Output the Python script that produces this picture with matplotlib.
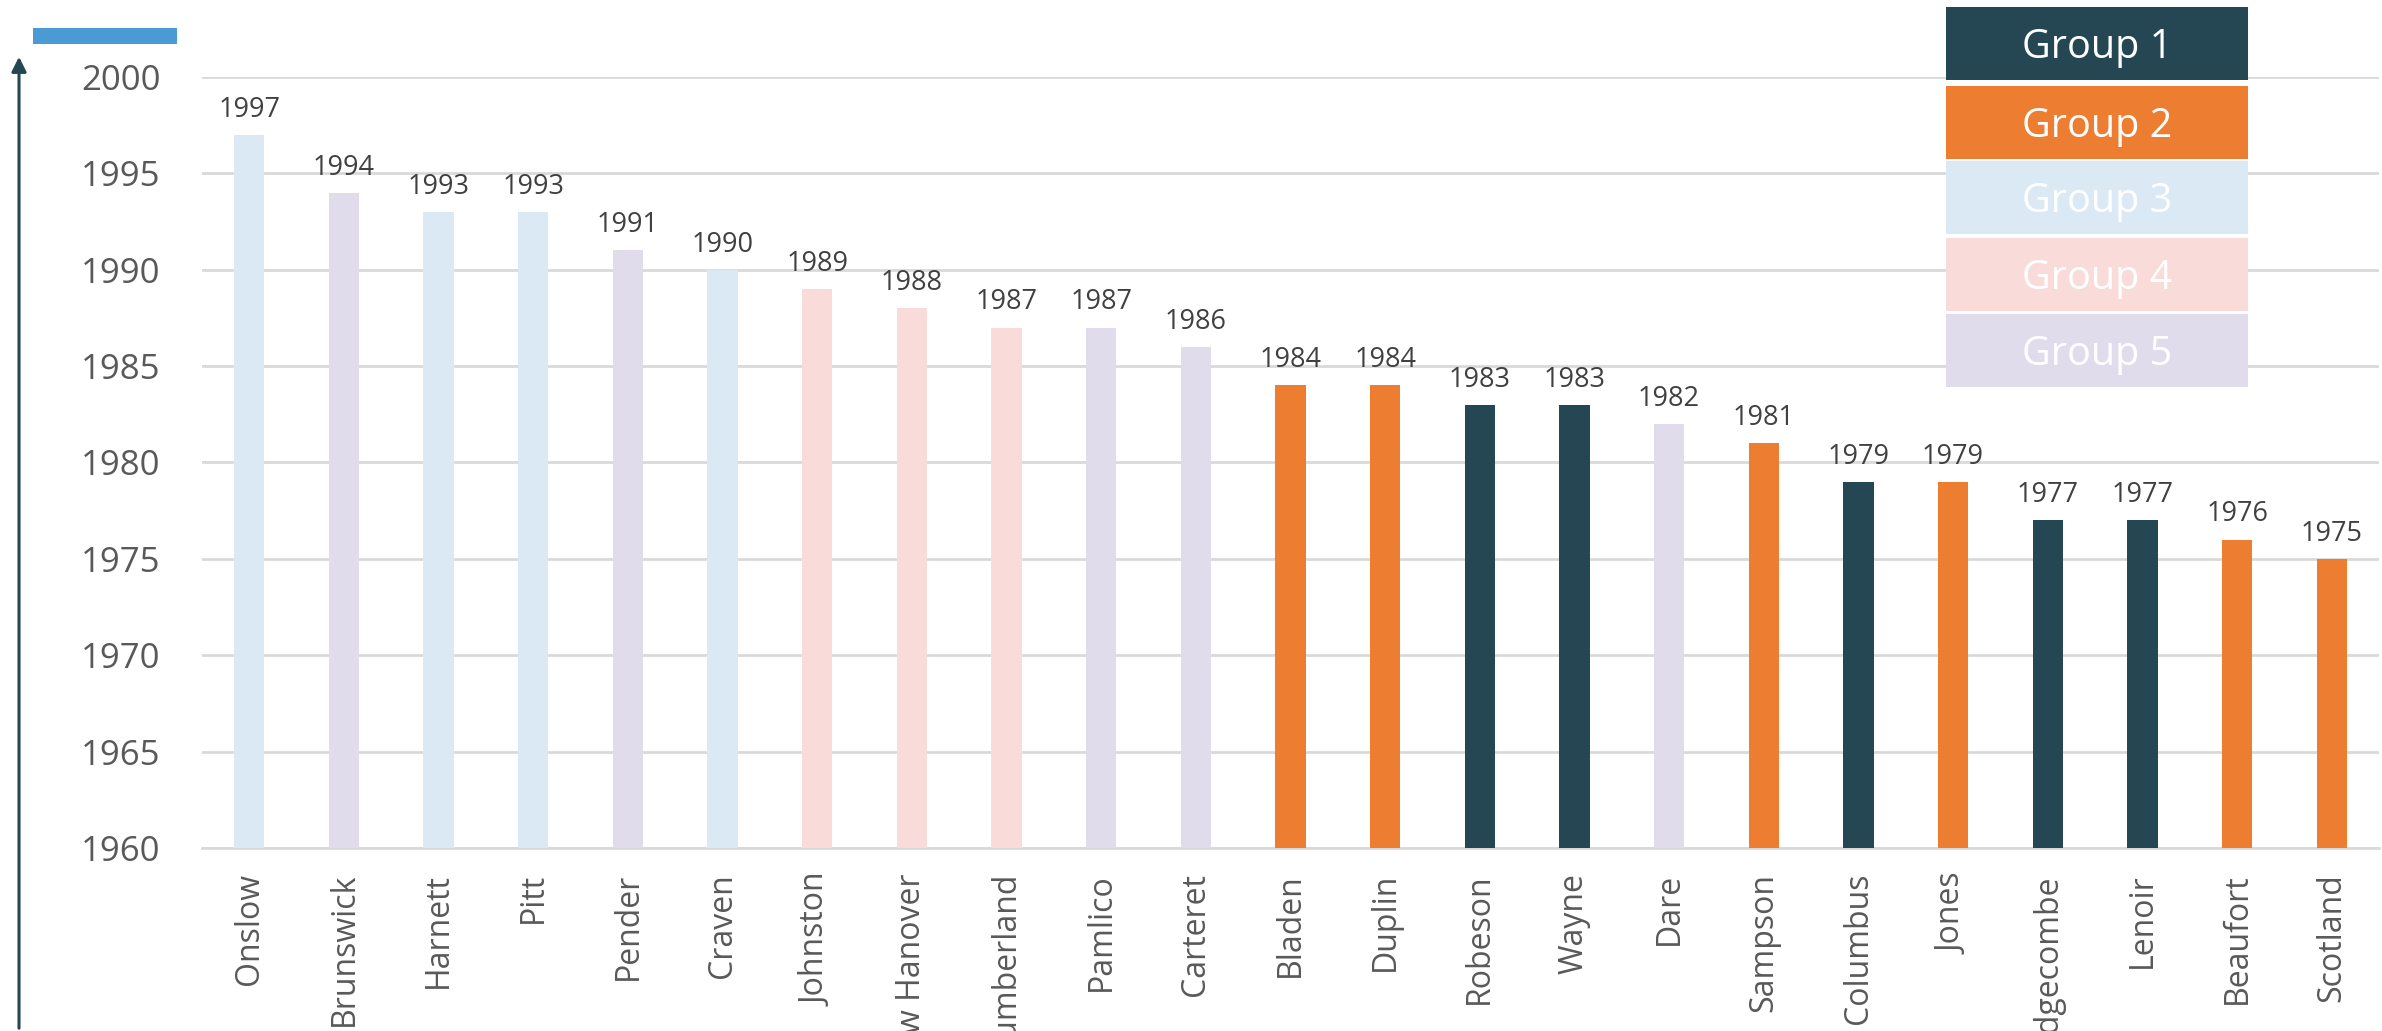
import matplotlib
matplotlib.use("Agg")
import matplotlib.pyplot as plt
from matplotlib.patches import Rectangle, FancyArrowPatch

counties = ["Onslow", "Brunswick", "Harnett", "Pitt", "Pender", "Craven", "Johnston",
            "New Hanover", "Cumberland", "Pamlico", "Carteret", "Bladen", "Duplin",
            "Robeson", "Wayne", "Dare", "Sampson", "Columbus", "Jones", "Edgecombe",
            "Lenoir", "Beaufort", "Scotland"]
years = [1997, 1994, 1993, 1993, 1991, 1990, 1989, 1988, 1987, 1987, 1986, 1984, 1984,
         1983, 1983, 1982, 1981, 1979, 1979, 1977, 1977, 1976, 1975]
groups = [3, 5, 3, 3, 5, 3, 4, 4, 4, 5, 5, 2, 2, 1, 1, 5, 2, 1, 2, 1, 1, 2, 2]
group_names = ["Group 1", "Group 2", "Group 3", "Group 4", "Group 5"]
group_colors = ["#254653", "#ED7D31", "#DAE9F4", "#F9DCD9", "#E0DCEC"]
y_ticks = [1960, 1965, 1970, 1975, 1980, 1985, 1990, 1995, 2000]

W, H = 2382, 1031
fig = plt.figure(figsize=(W / 100, H / 100), dpi=100)
ax = fig.add_axes([202 / W, 1 - 848 / H, (2379 - 202) / W, (848 - 77) / H])

x = list(range(len(counties)))
bottom = y_ticks[0]
colors = [group_colors[g - 1] for g in groups]
bars = ax.bar(x, [y - bottom for y in years], bottom=bottom, width=0.32,
              color=colors, zorder=3)
for xi, yv in zip(x, years):
    ax.annotate(str(yv), (xi, yv), xytext=(0, 8), textcoords="offset points",
                ha="center", va="bottom", fontsize=19.5, color="#404040",
                family="Open Sans")

ax.set_xlim(-0.5, len(counties) - 0.5)
ax.set_ylim(y_ticks[0], y_ticks[-1])
ax.set_yticks(y_ticks)
ax.set_yticklabels([str(t) for t in y_ticks], fontsize=25, color="#595959",
                   family="Open Sans")
ax.set_xticks(x)
ax.set_xticklabels(counties, rotation=90, fontsize=23, color="#595959",
                   family="Open Sans", va="top", ha="center")
ax.tick_params(axis="y", length=0, pad=30)
ax.tick_params(axis="x", length=0, pad=18)
ax.grid(axis="y", color="#D9D9D9", linewidth=2, zorder=0)
for s in ["top", "right", "left"]:
    ax.spines[s].set_visible(False)
ax.spines["bottom"].set_color("#D9D9D9")
ax.spines["bottom"].set_linewidth(2)

# legend boxes
tops = [7, 86, 161, 238, 314]
for name, col, t in zip(group_names, group_colors, tops):
    fig.add_artist(Rectangle((1946 / W, 1 - (t + 73) / H), 302 / W, 73 / H,
                             transform=fig.transFigure, facecolor=col,
                             edgecolor="none", zorder=5))
    fig.text(2097 / W, 1 - (t + 41) / H, name, ha="center", va="center",
             color="white", fontsize=28.5, family="Open Sans", zorder=6)

# title placeholder bar
fig.add_artist(Rectangle((33 / W, 1 - 44 / H), 144 / W, 16 / H,
                         transform=fig.transFigure, facecolor="#4A9BD3",
                         edgecolor="none"))

# vertical arrow
fig.add_artist(FancyArrowPatch((19 / W, 0.0), (19 / W, 1 - 54 / H),
                               transform=fig.transFigure, arrowstyle="-|>",
                               mutation_scale=22, color="#254653", linewidth=2.2))

fig.savefig("out.png", dpi=100)
